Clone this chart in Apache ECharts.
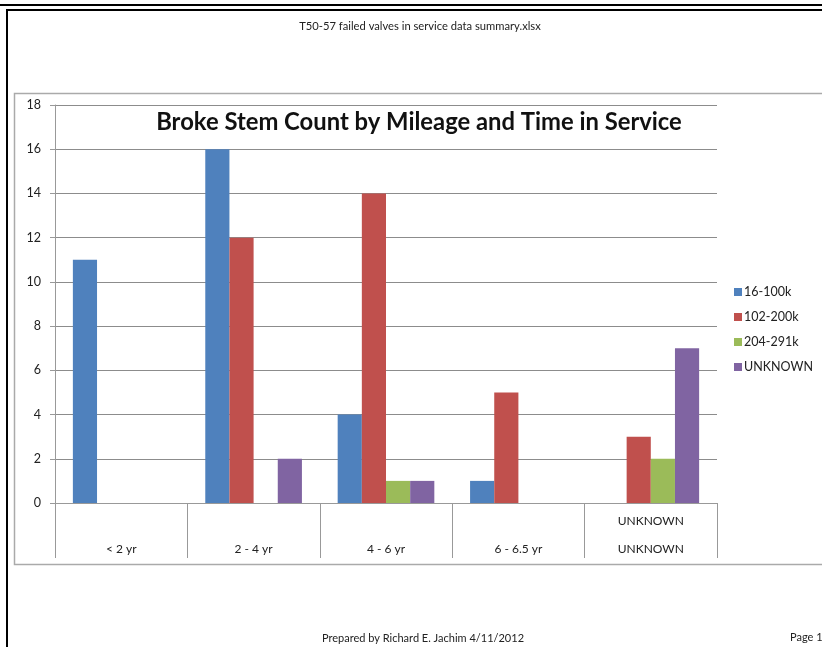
<!DOCTYPE html>
<html>
<head>
<meta charset="utf-8">
<script src="https://cdn.jsdelivr.net/npm/echarts@6/dist/echarts.min.js"></script>
<style>
  html, body { margin: 0; padding: 0; background: #fff; }
  #main { width: 822px; height: 647px; }
</style>
</head>
<body>
<div id="main"></div>
<script>
// data
var periods = ['< 2 yr', '2 - 4 yr', '4 - 6 yr', '6 - 6.5 yr', 'UNKNOWN'];
var upperLabels = ['', '', '', '', 'UNKNOWN'];
var mileage = ['16-100k', '102-200k', '204-291k', 'UNKNOWN'];
var m16_100k = [11, 16, 4, 1, 0];
var m102_200k = [0, 12, 14, 5, 3];
var m204_291k = [0, 0, 1, 0, 2];
var mUnknown = [0, 2, 1, 0, 7];
var yTicks = [0, 2, 4, 6, 8, 10, 12, 14, 16, 18];

var colors = ['#4F81BD', '#C0504D', '#9BBB59', '#8064A2'];
var font = 'Lato, "Open Sans", sans-serif';

var myChart = echarts.init(document.getElementById('main'));

function bar(name, data) {
	return {
		name: name,
		type: 'bar',
		data: data,
		barGap: '0%',
		barCategoryGap: '27%'
	};
}

option = {
	animation: false,
	color: colors,
	textStyle: { fontFamily: font },
	title: [{
		text: 'Broke Stem Count by Mileage and Time in Service',
		left: 414,
		textAlign: 'center',
		top: 105,
		textStyle: { fontSize: 23.8, fontWeight: 'bold', color: '#111', fontFamily: font }
	}, {
		text: 'T50-57 failed valves in service data summary.xlsx',
		left: 415,
		textAlign: 'center',
		top: 16,
		textStyle: { fontSize: 11.2, fontWeight: 'normal', color: '#222', fontFamily: font }
	}, {
		text: 'Prepared by Richard E. Jachim 4/11/2012',
		left: 418,
		textAlign: 'center',
		top: 628,
		textStyle: { fontSize: 11, fontWeight: 'normal', color: '#222', fontFamily: font }
	}, {
		text: 'Page 1',
		left: 790,
		top: 632,
		padding: 0,
		textStyle: { fontSize: 11, fontWeight: 'normal', color: '#222', fontFamily: font }
	}],
	legend: {
		orient: 'vertical',
		left: 729,
		top: 280,
		itemWidth: 8,
		itemHeight: 8,
		itemGap: 11,
		icon: 'rect',
		textStyle: { fontSize: 12.5, color: '#222', padding: [0, 0, 0, -3], lineHeight: 14 },
		data: mileage
	},
	grid: {
		left: 55,
		right: 105,
		top: 105,
		bottom: 144
	},
	xAxis: {
		type: 'category',
		data: periods,
		axisLine: { lineStyle: { color: '#999', width: 1 } },
		axisTick: {
			show: true,
			length: 55,
			alignWithLabel: false,
			lineStyle: { color: '#999', width: 1 }
		},
		axisLabel: {
			interval: 0,
			margin: 4,
			lineHeight: 28,
			fontSize: 12,
			color: '#222',
			formatter: function(v, i) {
				return upperLabels[i] + '\n' + v;
			}
		}
	},
	yAxis: {
		type: 'value',
		min: yTicks[0],
		max: yTicks[yTicks.length - 1],
		interval: 2,
		axisLine: { show: true, lineStyle: { color: '#999', width: 1 } },
		axisTick: { show: true, length: 5, lineStyle: { color: '#999' } },
		axisLabel: { fontSize: 12.5, color: '#222', margin: 14 },
		splitLine: { lineStyle: { color: '#8c8c8c', width: 1 } }
	},
	graphic: [
		{ type: 'rect', shape: { x: 0, y: 4, width: 822, height: 2 }, style: { fill: '#000' } },
		{ type: 'rect', shape: { x: 6, y: 9, width: 816, height: 2 }, style: { fill: '#000' } },
		{ type: 'rect', shape: { x: 6, y: 9, width: 2, height: 638 }, style: { fill: '#000' } },
		{ type: 'rect', z: -1, shape: { x: 14.5, y: 93.5, width: 820, height: 471 },
		  style: { fill: 'none', stroke: '#aaa', lineWidth: 1.5 } }
	],
	series: [
		bar(mileage[0], m16_100k),
		bar(mileage[1], m102_200k),
		bar(mileage[2], m204_291k),
		bar(mileage[3], mUnknown)
	]
};

myChart.setOption(option);
</script>
</body>
</html>
